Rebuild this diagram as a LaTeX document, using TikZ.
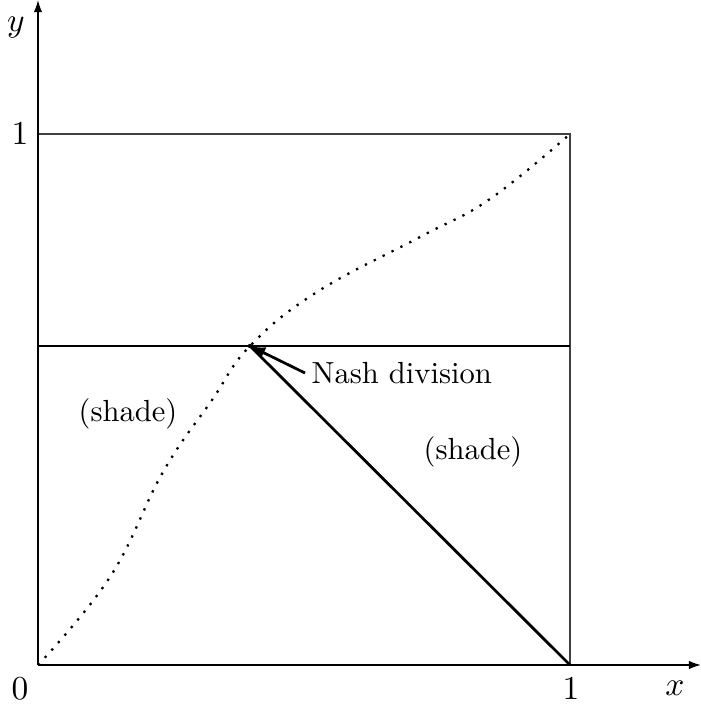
\documentclass[tikz,border=0pt]{standalone}
\usetikzlibrary{arrows.meta}
\begin{document}
\begin{tikzpicture}[x=0.0115cm,y=-0.0115cm,
  axis/.style={line width=0.5pt,-{Latex[length=4pt,width=2.8pt]}},
  thinline/.style={line width=0.45pt,black!75},
  thickline/.style={line width=0.9pt},
  curve/.style={line width=0.75pt,dash pattern=on 0.75pt off 2.5pt},
  lbl/.style={inner sep=0pt,font=\fontsize{10}{12}\selectfont},
  axlbl/.style={inner sep=0pt,font=\fontsize{10.6}{12}\selectfont},
  pointer/.style={line width=0.9pt,-{Latex[length=5pt,width=4pt]}}]
\useasboundingbox (0,0) rectangle (701,704);
% key points
\coordinate (O) at (38,665);
\coordinate (xend) at (701,665);
\coordinate (yend) at (38,0);
\coordinate (X1) at (570,665);
\coordinate (Y1) at (38,134);
\coordinate (C) at (570,134);
\coordinate (L) at (38,346);
\coordinate (R) at (570,346);
\coordinate (N) at (250,346);
% box
\draw[thinline] (Y1) -- (C) -- (X1);
% axes
\draw[axis] (O) -- (xend);
\draw[axis] (O) -- (yend);
% horizontal line and diagonal
\draw[thickline] (L) -- (R);
\draw[thickline] (N) -- (X1);
% dotted curve
\draw[curve] plot[smooth,tension=0.7] coordinates {(38,665) (110,577) (163,472) (212,400) (250,346) (317,292) (420,237) (490,199) (570,134)};
\fill (N) circle (2.2);
% labels
\node[axlbl] (ylab) at (16,28) {$y$};
\node[axlbl] (one_y) at (20,134) {$1$};
\node[axlbl] (zero) at (20,689) {$0$};
\node[axlbl] (one_x) at (571,689) {$1$};
\node[axlbl] (xlab) at (675,688) {$x$};
\node[lbl,anchor=west] (nash) at (311,373) {Nash division};
\node[lbl] (shadeL) at (128,414) {(shade)};
\node[lbl] (shadeR) at (473,452) {(shade)};
\coordinate (ps) at (305,373);
\draw[pointer] (ps) -- (N);
\end{tikzpicture}
\end{document}
